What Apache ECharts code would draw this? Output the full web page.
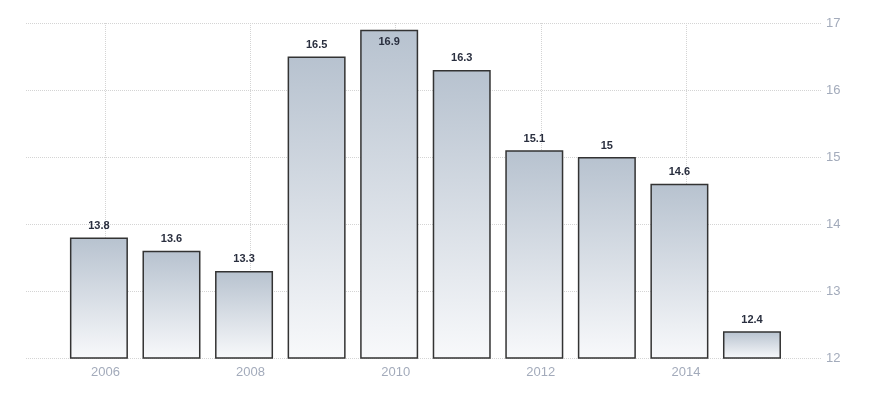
<!DOCTYPE html>
<html>
<head>
<meta charset="utf-8">
<script src="https://cdn.jsdelivr.net/npm/echarts@6/dist/echarts.min.js"></script>
<style>
html,body{margin:0;padding:0;background:#fff;}
#chart{width:888px;height:400px;}
</style>
</head>
<body>
<div id="chart"></div>
<script>
const years = [2006, 2007, 2008, 2009, 2010, 2011, 2012, 2013, 2014, 2015];
const values = [13.8, 13.6, 13.3, 16.5, 16.9, 16.3, 15.1, 15, 14.6, 12.4];
const xTickYears = [2006, 2008, 2010, 2012, 2014];
const yTicks = [12, 13, 14, 15, 16, 17];

const tickOffset = 0.09;
const tickPositions = xTickYears.map(y => y + tickOffset);

const chart = echarts.init(document.getElementById('chart'), null, {renderer: 'canvas'});
const gridColor = '#d4d4d4';
const labelColor = '#a3abbb';

chart.setOption({
  animation: false,
  backgroundColor: '#fff',
  grid: {left: 26, right: 66, top: 23, bottom: 42, containLabel: false},
  xAxis: {
    type: 'value',
    min: 2004.995,
    max: 2015.965,
    axisLine: {show: false},
    axisTick: {show: true, customValues: tickPositions, length: 3, inside: true, lineStyle: {color: '#c8c8c8'}},
    axisLabel: {
      customValues: tickPositions,
      formatter: v => String(Math.floor(v)),
      color: labelColor, fontSize: 13, fontFamily: 'Liberation Sans, Arial, sans-serif', margin: 8
    },
    splitLine: {show: true, customValues: tickPositions, lineStyle: {color: gridColor, type: [1, 1], width: 1}}
  },
  yAxis: {
    type: 'value',
    position: 'right',
    min: yTicks[0],
    max: yTicks[yTicks.length - 1],
    interval: 1,
    axisLine: {show: false},
    axisTick: {show: false},
    axisLabel: {color: labelColor, fontSize: 13, fontFamily: 'Liberation Sans, Arial, sans-serif', margin: 4},
    splitLine: {show: true, lineStyle: {color: gridColor, type: [1, 1], width: 1}}
  },
  series: [{
    type: 'bar',
    barWidth: 58,
    data: years.map((y, i) => {
      const item = {value: [y, values[i]]};
      if (values[i] >= 16.8) {
        item.label = {position: 'insideTop', distance: 7};
      }
      return item;
    }),
    itemStyle: {
      color: new echarts.graphic.LinearGradient(0, 0, 0, 1, [
        {offset: 0, color: '#b7c2cf'},
        {offset: 1, color: '#f8f9fb'}
      ]),
      borderColor: '#333333',
      borderWidth: 1.5
    },
    label: {
      show: true,
      position: 'top',
      distance: 6,
      color: '#2a2f3f',
      fontSize: 11,
      fontWeight: 'bold',
      fontFamily: 'Liberation Sans, Arial, sans-serif',
      formatter: p => String(p.value[1])
    }
  }]
});
</script>
</body>
</html>
